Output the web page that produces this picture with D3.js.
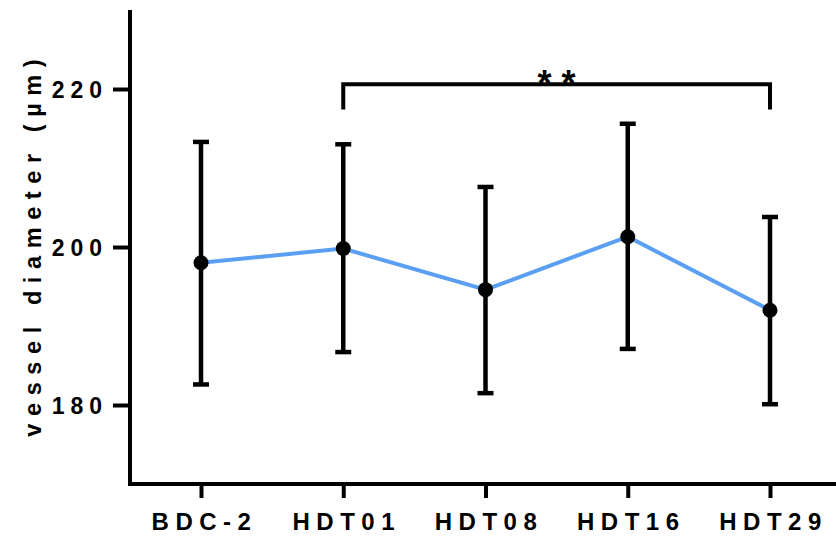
<!DOCTYPE html>
<html>
<head>
<meta charset="utf-8">
<script src="https://cdn.jsdelivr.net/npm/d3@7"></script>
<style>
  body { margin: 0; background: #fff; }
  text { font-family: "Liberation Sans", Arial, sans-serif; font-weight: bold; fill: #000; }
</style>
</head>
<body>
<div id="chart"></div>
<script>
// data
var groups = ["BDC-2", "HDT01", "HDT08", "HDT16", "HDT29"];
var means = [198.0, 199.8, 194.6, 201.3, 192.0];
var upper = [213.3, 213.0, 207.6, 215.6, 203.8];
var lower = [182.6, 186.7, 181.5, 187.1, 180.1];
var yTicks = [180, 200, 220];
var sigPair = ["HDT01", "HDT29"];
var sigLabel = "**";

var svgWidth = 836;
var svgHeight = 539;

var svg = d3.select("#chart")
  .append("svg")
  .attr("width", svgWidth)
  .attr("height", svgHeight);

var xScale = d3.scalePoint()
  .domain(groups)
  .range([201, 770]);

var yScale = d3.scaleLinear()
  .domain([170, 230])
  .range([484, 10]);

var axisLeftX = 130;
var axisBottomY = 484;

// y axis
var leftAxis = d3.axisLeft(yScale).tickValues(yTicks).tickSize(17).tickPadding(5).tickSizeOuter(0);
var yAxis = svg.append("g")
  .attr("transform", `translate(${axisLeftX},0)`)
  .call(leftAxis);
yAxis.select(".domain").remove();
yAxis.selectAll(".tick line").attr("stroke", "#000").attr("stroke-width", 4);
yAxis.selectAll(".tick text")
  .attr("font-size", 23)
  .style("letter-spacing", "6px")
  .attr("dy", "0.36em");

// x axis
var bottomAxis = d3.axisBottom(xScale).tickSize(14).tickPadding(15).tickSizeOuter(0);
var xAxis = svg.append("g")
  .attr("transform", `translate(0,${axisBottomY})`)
  .call(bottomAxis);
xAxis.select(".domain").remove();
xAxis.selectAll(".tick line").attr("stroke", "#000").attr("stroke-width", 4);
xAxis.selectAll(".tick text")
  .attr("font-size", 24)
  .style("letter-spacing", "6.5px")
  .attr("dx", "3px");

// axis lines
svg.append("path")
  .attr("d", `M${axisLeftX},${yScale(230)}V${axisBottomY}H${svgWidth}`)
  .attr("fill", "none")
  .attr("stroke", "#000")
  .attr("stroke-width", 4);

// axis title
svg.append("text")
  .attr("transform", `translate(41,248) rotate(-90)`)
  .attr("text-anchor", "middle")
  .attr("dx", "3.8px")
  .attr("font-size", 23.5)
  .style("letter-spacing", "7.6px")
  .text("vessel diameter (\u00b5m)");

// connecting line
var line = d3.line()
  .x(function(d, i) { return xScale(groups[i]); })
  .y(function(d) { return yScale(d); });

svg.append("path")
  .datum(means)
  .attr("d", line)
  .attr("fill", "none")
  .attr("stroke", "#5a9ff2")
  .attr("stroke-width", 4);

// error bars
var bars = svg.selectAll(".err")
  .data(groups)
  .enter()
  .append("g")
  .attr("class", "err");

bars.append("line")
  .attr("x1", d => xScale(d))
  .attr("x2", d => xScale(d))
  .attr("y1", (d, i) => yScale(upper[i]))
  .attr("y2", (d, i) => yScale(lower[i]))
  .attr("stroke", "#000")
  .attr("stroke-width", 4.5);

bars.append("line")
  .attr("x1", d => xScale(d) - 8)
  .attr("x2", d => xScale(d) + 8)
  .attr("y1", (d, i) => yScale(upper[i]))
  .attr("y2", (d, i) => yScale(upper[i]))
  .attr("stroke", "#000")
  .attr("stroke-width", 4.5);

bars.append("line")
  .attr("x1", d => xScale(d) - 8)
  .attr("x2", d => xScale(d) + 8)
  .attr("y1", (d, i) => yScale(lower[i]))
  .attr("y2", (d, i) => yScale(lower[i]))
  .attr("stroke", "#000")
  .attr("stroke-width", 4.5);

// points
svg.selectAll(".pt")
  .data(means)
  .enter()
  .append("circle")
  .attr("class", "pt")
  .attr("cx", (d, i) => xScale(groups[i]))
  .attr("cy", d => yScale(d))
  .attr("r", 7.5)
  .attr("fill", "#000");

// significance bracket
var bx1 = xScale(sigPair[0]);
var bx2 = xScale(sigPair[1]);
var by = yScale(220.6);
svg.append("path")
  .attr("d", `M${bx1},${yScale(217.4)}V${by}H${bx2}V${yScale(217.4)}`)
  .attr("fill", "none")
  .attr("stroke", "#000")
  .attr("stroke-width", 4);

svg.append("text")
  .attr("x", (bx1 + bx2) / 2)
  .attr("dx", "5px")
  .attr("y", by + 12)
  .attr("text-anchor", "middle")
  .attr("font-size", 36)
  .style("letter-spacing", "10px")
  .text(sigLabel);
</script>
</body>
</html>
